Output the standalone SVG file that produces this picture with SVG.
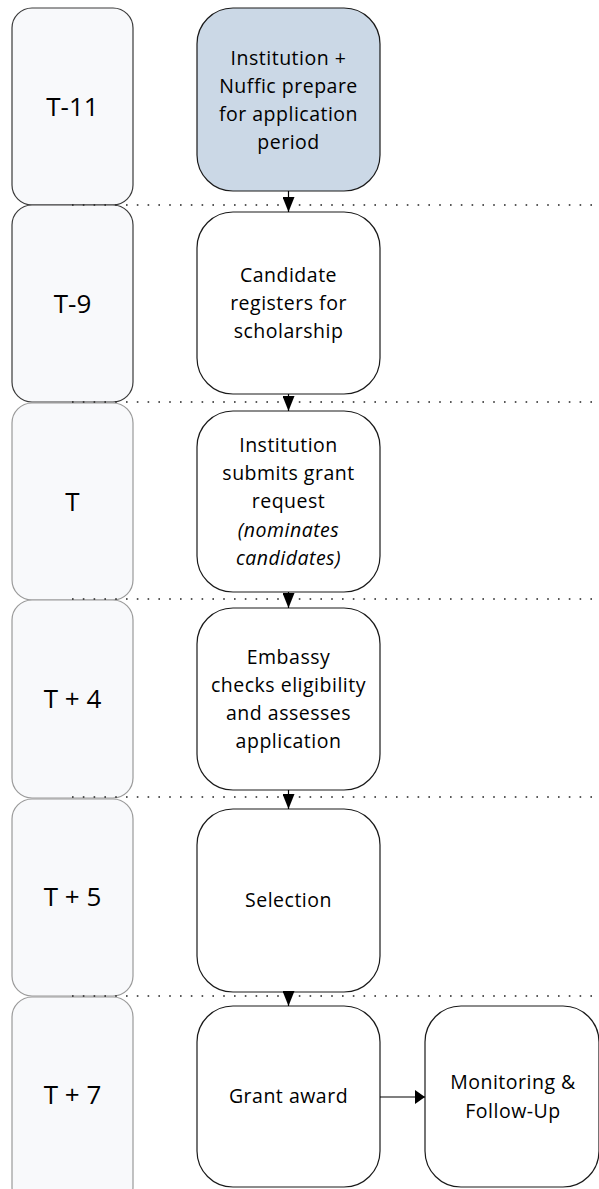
<svg xmlns="http://www.w3.org/2000/svg" width="599" height="1189" viewBox="0 0 599 1189">
<defs>
<style>
.lane{fill:#f8f9fb;stroke-width:1.2}
.dark{stroke:#3a3a3a}
.grey{stroke:#9a9a9a}
.step{fill:#ffffff;stroke:#1a1a1a;stroke-width:1.2}
.first{fill:#cbd8e6}
.lbl{font-family:"Open Sans","Noto Sans",sans-serif;font-size:26px;fill:#000;text-anchor:middle}
.txt{font-family:"Open Sans","Noto Sans",sans-serif;font-size:19.5px;fill:#000;text-anchor:middle;letter-spacing:0.5px}
.it{font-style:italic}
.dot{stroke:#222;stroke-width:1.6;stroke-dasharray:1.6 9.2;fill:none}
.conn{stroke:#000;stroke-width:1.2;fill:none}
</style>
<marker id="ah" markerUnits="userSpaceOnUse" viewBox="0 0 15 12" markerWidth="15" markerHeight="12" refX="15" refY="6" orient="auto">
<path d="M0,0 L15,6 L0,12 z" fill="#000"/>
</marker>
<marker id="ah2" markerUnits="userSpaceOnUse" viewBox="0 0 10 14" markerWidth="10" markerHeight="14" refX="10" refY="7" orient="auto">
<path d="M0,0 L10,7 L0,14 z" fill="#000"/>
</marker>
</defs>

<g id="lane-t11"><rect class="lane dark" x="12" y="8" width="121" height="197" rx="20"/><text class="lbl" x="72.5" y="116">T-11</text></g>
<g id="lane-t9"><rect class="lane dark" x="12" y="205" width="121" height="197" rx="20"/><text class="lbl" x="72.5" y="313">T-9</text></g>
<g id="lane-t"><rect class="lane grey" x="12" y="403" width="121" height="197" rx="20"/><text class="lbl" x="72.5" y="511">T</text></g>
<g id="lane-t4"><rect class="lane grey" x="12" y="600" width="121" height="198" rx="20"/><text class="lbl" x="72.5" y="708">T + 4</text></g>
<g id="lane-t5"><rect class="lane grey" x="12" y="799" width="121" height="197" rx="20"/><text class="lbl" x="72.5" y="906">T + 5</text></g>
<g id="lane-t7"><rect class="lane grey" x="12" y="997" width="121" height="210" rx="20"/><text class="lbl" x="72.5" y="1104">T + 7</text></g>

<g id="separators">
<line class="dot" x1="72" y1="205" x2="599" y2="205"/>
<line class="dot" x1="72" y1="402" x2="599" y2="402"/>
<line class="dot" x1="72" y1="599" x2="599" y2="599"/>
<line class="dot" x1="72" y1="797" x2="599" y2="797"/>
<line class="dot" x1="72" y1="996" x2="599" y2="996"/>
</g>

<g id="step1"><rect class="step first" x="197" y="8" width="183" height="183" rx="36"/>
<text class="txt" x="288.5" y="65">Institution +</text>
<text class="txt" x="288.5" y="93">Nuffic prepare</text>
<text class="txt" x="288.5" y="121">for application</text>
<text class="txt" x="288.5" y="149">period</text></g>

<g id="step2"><rect class="step" x="197" y="212" width="183" height="182" rx="36"/>
<text class="txt" x="288.5" y="282">Candidate</text>
<text class="txt" x="288.5" y="310">registers for</text>
<text class="txt" x="288.5" y="338">scholarship</text></g>

<g id="step3"><rect class="step" x="197" y="411" width="183" height="181" rx="36"/>
<text class="txt" x="288.5" y="452">Institution</text>
<text class="txt" x="288.5" y="480">submits grant</text>
<text class="txt" x="288.5" y="508">request</text>
<text class="txt it" x="288.5" y="537">(nominates</text>
<text class="txt it" x="288.5" y="565">candidates)</text></g>

<g id="step4"><rect class="step" x="197" y="608" width="183" height="182" rx="36"/>
<text class="txt" x="288.5" y="664">Embassy</text>
<text class="txt" x="288.5" y="692">checks eligibility</text>
<text class="txt" x="288.5" y="720">and assesses</text>
<text class="txt" x="288.5" y="748">application</text></g>

<g id="step5"><rect class="step" x="197" y="809" width="183" height="183" rx="36"/>
<text class="txt" x="288.5" y="907">Selection</text></g>

<g id="step6"><rect class="step" x="197" y="1006" width="183" height="181" rx="36"/>
<text class="txt" x="288.5" y="1103">Grant award</text></g>

<g id="step7"><rect class="step" x="425" y="1006" width="174" height="181" rx="36"/>
<text class="txt" x="513" y="1089">Monitoring &amp;</text>
<text class="txt" x="513" y="1118">Follow-Up</text></g>

<g id="connectors">
<line class="conn" x1="288.5" y1="191" x2="288.5" y2="212" marker-end="url(#ah)"/>
<line class="conn" x1="288.5" y1="394" x2="288.5" y2="411" marker-end="url(#ah)"/>
<line class="conn" x1="288.5" y1="592" x2="288.5" y2="608" marker-end="url(#ah)"/>
<line class="conn" x1="288.5" y1="790" x2="288.5" y2="809" marker-end="url(#ah)"/>
<line class="conn" x1="288.5" y1="992" x2="288.5" y2="1006" marker-end="url(#ah)"/>
<line class="conn" x1="380" y1="1097" x2="425" y2="1097" marker-end="url(#ah2)"/>
</g>
</svg>
